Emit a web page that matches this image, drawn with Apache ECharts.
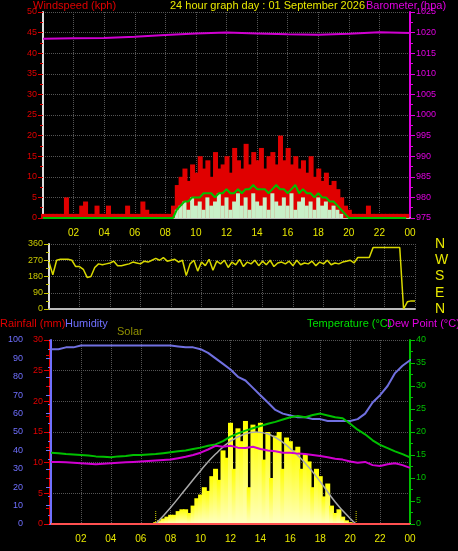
<!DOCTYPE html>
<html><head><meta charset="utf-8">
<script src="https://cdn.jsdelivr.net/npm/echarts@6/dist/echarts.min.js"></script>
<style>html,body{margin:0;background:#000}#c{width:458px;height:551px}</style>
</head><body><div id="c"></div>
<script>
// 15-minute samples (96 per day)
const windGust = [1,1,1,1,1,1,5,1,1,1,3,4,1,1,3,1,1,3,1,1,1,1,3,1,1,1,4,2,1,1,1,1,1,1,3,
 8,10,12,9,13,11,15,12,14,10,16,12,13,15,11,17,14,12,18,13,16,14,17,12,15,16,13,20,14,17,13,15,12,14,11,15,10,12,9,11,8,9,7,5,3,2,
 1,1,1,1,3,1,1,1,1,1,1,1,1,1,1];
const windSpeed = [0,0,0,0,0,0,0,0,0,0,0,0,0,0,0,0,0,0,0,0,0,0,0,0,0,0,0,0,0,0,0,0,0,0,0,
 2,3,4,2,5,3,4,2,5,3,4,6,3,5,2,4,6,3,5,2,6,4,3,5,2,6,4,3,5,3,6,2,4,5,3,4,2,5,3,4,2,3,2,1,0,0,
 0,0,0,0,0,0,0,0,0,0,0,0,0,0,0];
const windAvg = [0,0,0,0,0,0,0,0,0,0,0,0,0,0,0,0,0,0,0,0,0,0,0,0,0,0,0,0,0,0,0,0,0,0,0,
 2,3,4,4,5,5,5,6,6,6,5,6,6,7,6,6,7,6,7,7,8,7,7,7,6,7,8,7,7,6,7,8,6,7,6,6,5,6,5,5,4,4,3,2,1,0,
 0,0,0,0,0,0,0,0,0,0,0,0,0,0,0];
const windDir = [260,190,270,275,275,275,270,235,235,220,175,180,230,250,245,250,255,265,240,240,245,250,260,255,250,265,260,270,280,270,285,265,270,275,260,
 270,185,250,270,210,260,240,275,215,265,250,270,230,260,245,275,235,260,250,270,240,265,245,270,235,255,260,250,265,240,270,245,255,250,265,240,260,250,270,245,255,250,260,265,270,255,
 285,285,285,285,340,340,340,340,340,340,340,340,0,40,45,45];
const baroHours = [0,2,4,6,8,10,12,14,16,18,20,22,24];
const baro = [1018.5,1018.6,1018.7,1019.0,1019.4,1019.8,1020.0,1019.8,1019.6,1019.5,1019.7,1020.1,1019.9];
const solar = [0,0,0,0,0,0,0,0,0,0,0,0,0,0,0,0,0,0,0,0,0,0,0,0,0,0,0,0,
 1,2,3,4,5,5,7,8,8,6,10,14,16,20,18,26,30,24,40,36,55,30,52,45,56,20,54,50,55,35,50,25,48,50,30,47,45,40,42,30,38,34,20,30,26,15,22,10,6,8,4,2,1,
 0,0,0,0,0,0,0,0,0,0,0,0,0,0,0];
// 30-minute samples (49)
const temperature = [15.5,15.4,15.2,15.1,15,14.9,14.7,14.6,14.5,14.7,14.8,15,15,15.1,15.2,15.4,15.6,15.8,16,16.3,16.6,17,17.3,18,19,19.7,20.3,20.8,21.3,21.8,22.2,22.7,23.2,23.5,23.2,23.7,24,23.6,23.2,23.0,21.8,20.5,19.5,18.2,17.2,16.5,15.8,15.2,14.5];
const dewPoint = [13.5,13.5,13.4,13.3,13.2,13.1,13,13.1,13.2,13.3,13.4,13.5,13.6,13.7,13.8,13.9,14,14.3,14.6,15,15.5,16.2,17,16.8,17,16.6,16.5,16.8,16.3,16,15.8,15.5,15.5,15.3,15.2,15,14.8,14.5,14.2,14,13.6,13.3,13.5,12.8,12.6,13,13.2,12.8,12.2];
const humidity = [95,95,96,96,97,97,97,97,97,97,97,97,97,97,97,97,97,96.5,96,96,95,93,90,87,84,80,78,74,70,66,62,60,59,58,58,57,57,56,56,56,56,57,60,66,70,75,82,86,89,91];
const rainfall = [0,0,0,0,0,0,0,0,0,0,0,0,0,0,0,0,0,0,0,0,0,0,0,0,0,0,0,0,0,0,0,0,0,0,0,0,0,0,0,0,0,0,0,0,0,0,0,0,0];
const theoHours = [7,8,9,10,11,12,13,13.7,14,15,16,17,18,19,20,20.4];
const theoSolar = [0,9,19,29,38,45,49,50,49.8,47,41,33,23,12,3,0];
const hourTicks = ['','02','04','06','08','10','12','14','16','18','20','22','00'];
const dirLabels = ['N','E','S','W','N'];

const q = a => a.map((v,i)=>[i*0.25,v]);
const h = a => a.map((v,i)=>[i*0.5,v]);
const grid = '#555';
const xa = (gi, show) => ({type:'value', gridIndex:gi, min:0, max:24, interval:2,
  axisLine:{show:true,lineStyle:{color:'#bbb',width:2}}, axisTick:{show:false},
  axisLabel:{show:show, color:'#e8e800', fontSize:10, margin:10, formatter:v=>hourTicks[v/2]},
  splitLine:{show:true,lineStyle:{color:grid,type:'dotted'}}});
const ya = (gi,min,max,iv,col,pos,extra) => Object.assign({type:'value',gridIndex:gi,min,max,interval:iv,position:pos,
  axisLine:{show:true,lineStyle:{color:col,width:2}}, axisTick:{show:true,lineStyle:{color:col}},
  minorTick:{show:true,splitNumber:2,length:3,lineStyle:{color:col}},
  axisLabel:{color:col,fontSize:9,margin:6,formatter:v=>String(v)}, splitLine:{show:false}}, extra||{});
const txt = (l,t,s,c,f) => ({type:'text',left:l,top:t,style:{text:s,fill:c,font:(f||11)+'px "Liberation Sans",sans-serif'}});

const chart = echarts.init(document.getElementById('c'));
chart.setOption({
  backgroundColor:'#000', animation:false,
  grid:[{left:43,right:48,top:12,height:206},{left:49,right:43,top:244,height:65},{left:51,right:48,top:340,height:184}],
  xAxis:[xa(0,true),xa(1,false),xa(2,true)],
  yAxis:[
    ya(0,0,50,5,'#e00000','left',{axisLine:{show:true,lineStyle:{color:'#ddd',width:2}},splitLine:{show:true,lineStyle:{color:grid,type:'dotted'}}}),
    ya(0,975,1025,5,'#e000e0','right'),
    ya(1,0,360,90,'#c8c800','left',{axisLine:{show:true,lineStyle:{color:'#ddd',width:2}},splitLine:{show:true,lineStyle:{color:grid,type:'dotted'}}}),
    ya(2,0,100,10,'#7070ff','left',{offset:22}),
    ya(2,0,30,5,'#e00000','left',{offset:2,axisLine:{show:true,lineStyle:{color:'#e00000',width:1}},splitLine:{show:true,lineStyle:{color:grid,type:'dotted'}}}),
    ya(2,0,40,5,'#00c000','right'),
    {type:'value',gridIndex:1,min:0,max:360,interval:90,position:'right',offset:12,axisLine:{show:false},axisTick:{show:false},splitLine:{show:false},
      axisLabel:{color:'#e8e800',fontSize:14,formatter:v=>dirLabels[v/90]}}
  ],
  series:[
    {type:'line',xAxisIndex:0,yAxisIndex:1,data:baroHours.map((x,i)=>[x,baro[i]]),showSymbol:false,lineStyle:{color:'#d000d0',width:2}},
    {type:'bar',xAxisIndex:0,yAxisIndex:0,data:q(windGust),barWidth:5,itemStyle:{color:'#e00000'},barGap:'-100%'},
    {type:'bar',xAxisIndex:0,yAxisIndex:0,data:q(windSpeed),barWidth:4,itemStyle:{color:'#c8f0c8'},barGap:'-100%'},
    {type:'line',xAxisIndex:0,yAxisIndex:0,data:q(windAvg),showSymbol:false,lineStyle:{color:'#00c000',width:2}},
    {type:'line',xAxisIndex:1,yAxisIndex:2,data:q(windDir),showSymbol:false,lineStyle:{color:'#d8d800',width:1.5}},
    {type:'bar',xAxisIndex:2,yAxisIndex:3,data:q(solar),barWidth:5,barGap:'-100%',itemStyle:{color:new echarts.graphic.LinearGradient(0,0,0,1,[{offset:0,color:'#ffff00'},{offset:1,color:'#ffffc0'}])}},
    {type:'line',xAxisIndex:2,yAxisIndex:3,data:theoHours.map((x,i)=>[x,theoSolar[i]]),smooth:true,showSymbol:false,lineStyle:{color:'#aaa',width:1.5}},
    {type:'line',xAxisIndex:2,yAxisIndex:3,data:[[7,0],[7,7]],showSymbol:false,lineStyle:{color:'#d8d800',type:'dotted',width:1}},
    {type:'line',xAxisIndex:2,yAxisIndex:3,data:[[20.4,0],[20.4,7]],showSymbol:false,lineStyle:{color:'#d8d800',type:'dotted',width:1}},
    {type:'line',xAxisIndex:2,yAxisIndex:3,data:h(humidity),showSymbol:false,lineStyle:{color:'#7070e0',width:2}},
    {type:'line',xAxisIndex:2,yAxisIndex:5,data:h(temperature),showSymbol:false,lineStyle:{color:'#00c000',width:2}},
    {type:'line',xAxisIndex:2,yAxisIndex:5,data:h(dewPoint),showSymbol:false,lineStyle:{color:'#d000d0',width:2}},
    {type:'line',xAxisIndex:2,yAxisIndex:4,data:h(rainfall),showSymbol:false,lineStyle:{color:'#ff5050',width:2}}
  ],
  graphic:[
    txt(33,0,'Windspeed (kph)','#e00000'),
    txt(170,0,'24 hour graph day : 01 September 2026','#e8e800'),
    txt(366,0,'Barometer (hpa)','#e000e0'),
    txt(0,318,'Rainfall (mm)','#e00000'),
    txt(65,318,'Humidity','#7070ff'),
    txt(117,326,'Solar','#909000'),
    txt(307,318,'Temperature (°C)','#00e000'),
    txt(387,318,'Dew Point (°C)','#e000e0')
  ]
});
</script></body></html>
